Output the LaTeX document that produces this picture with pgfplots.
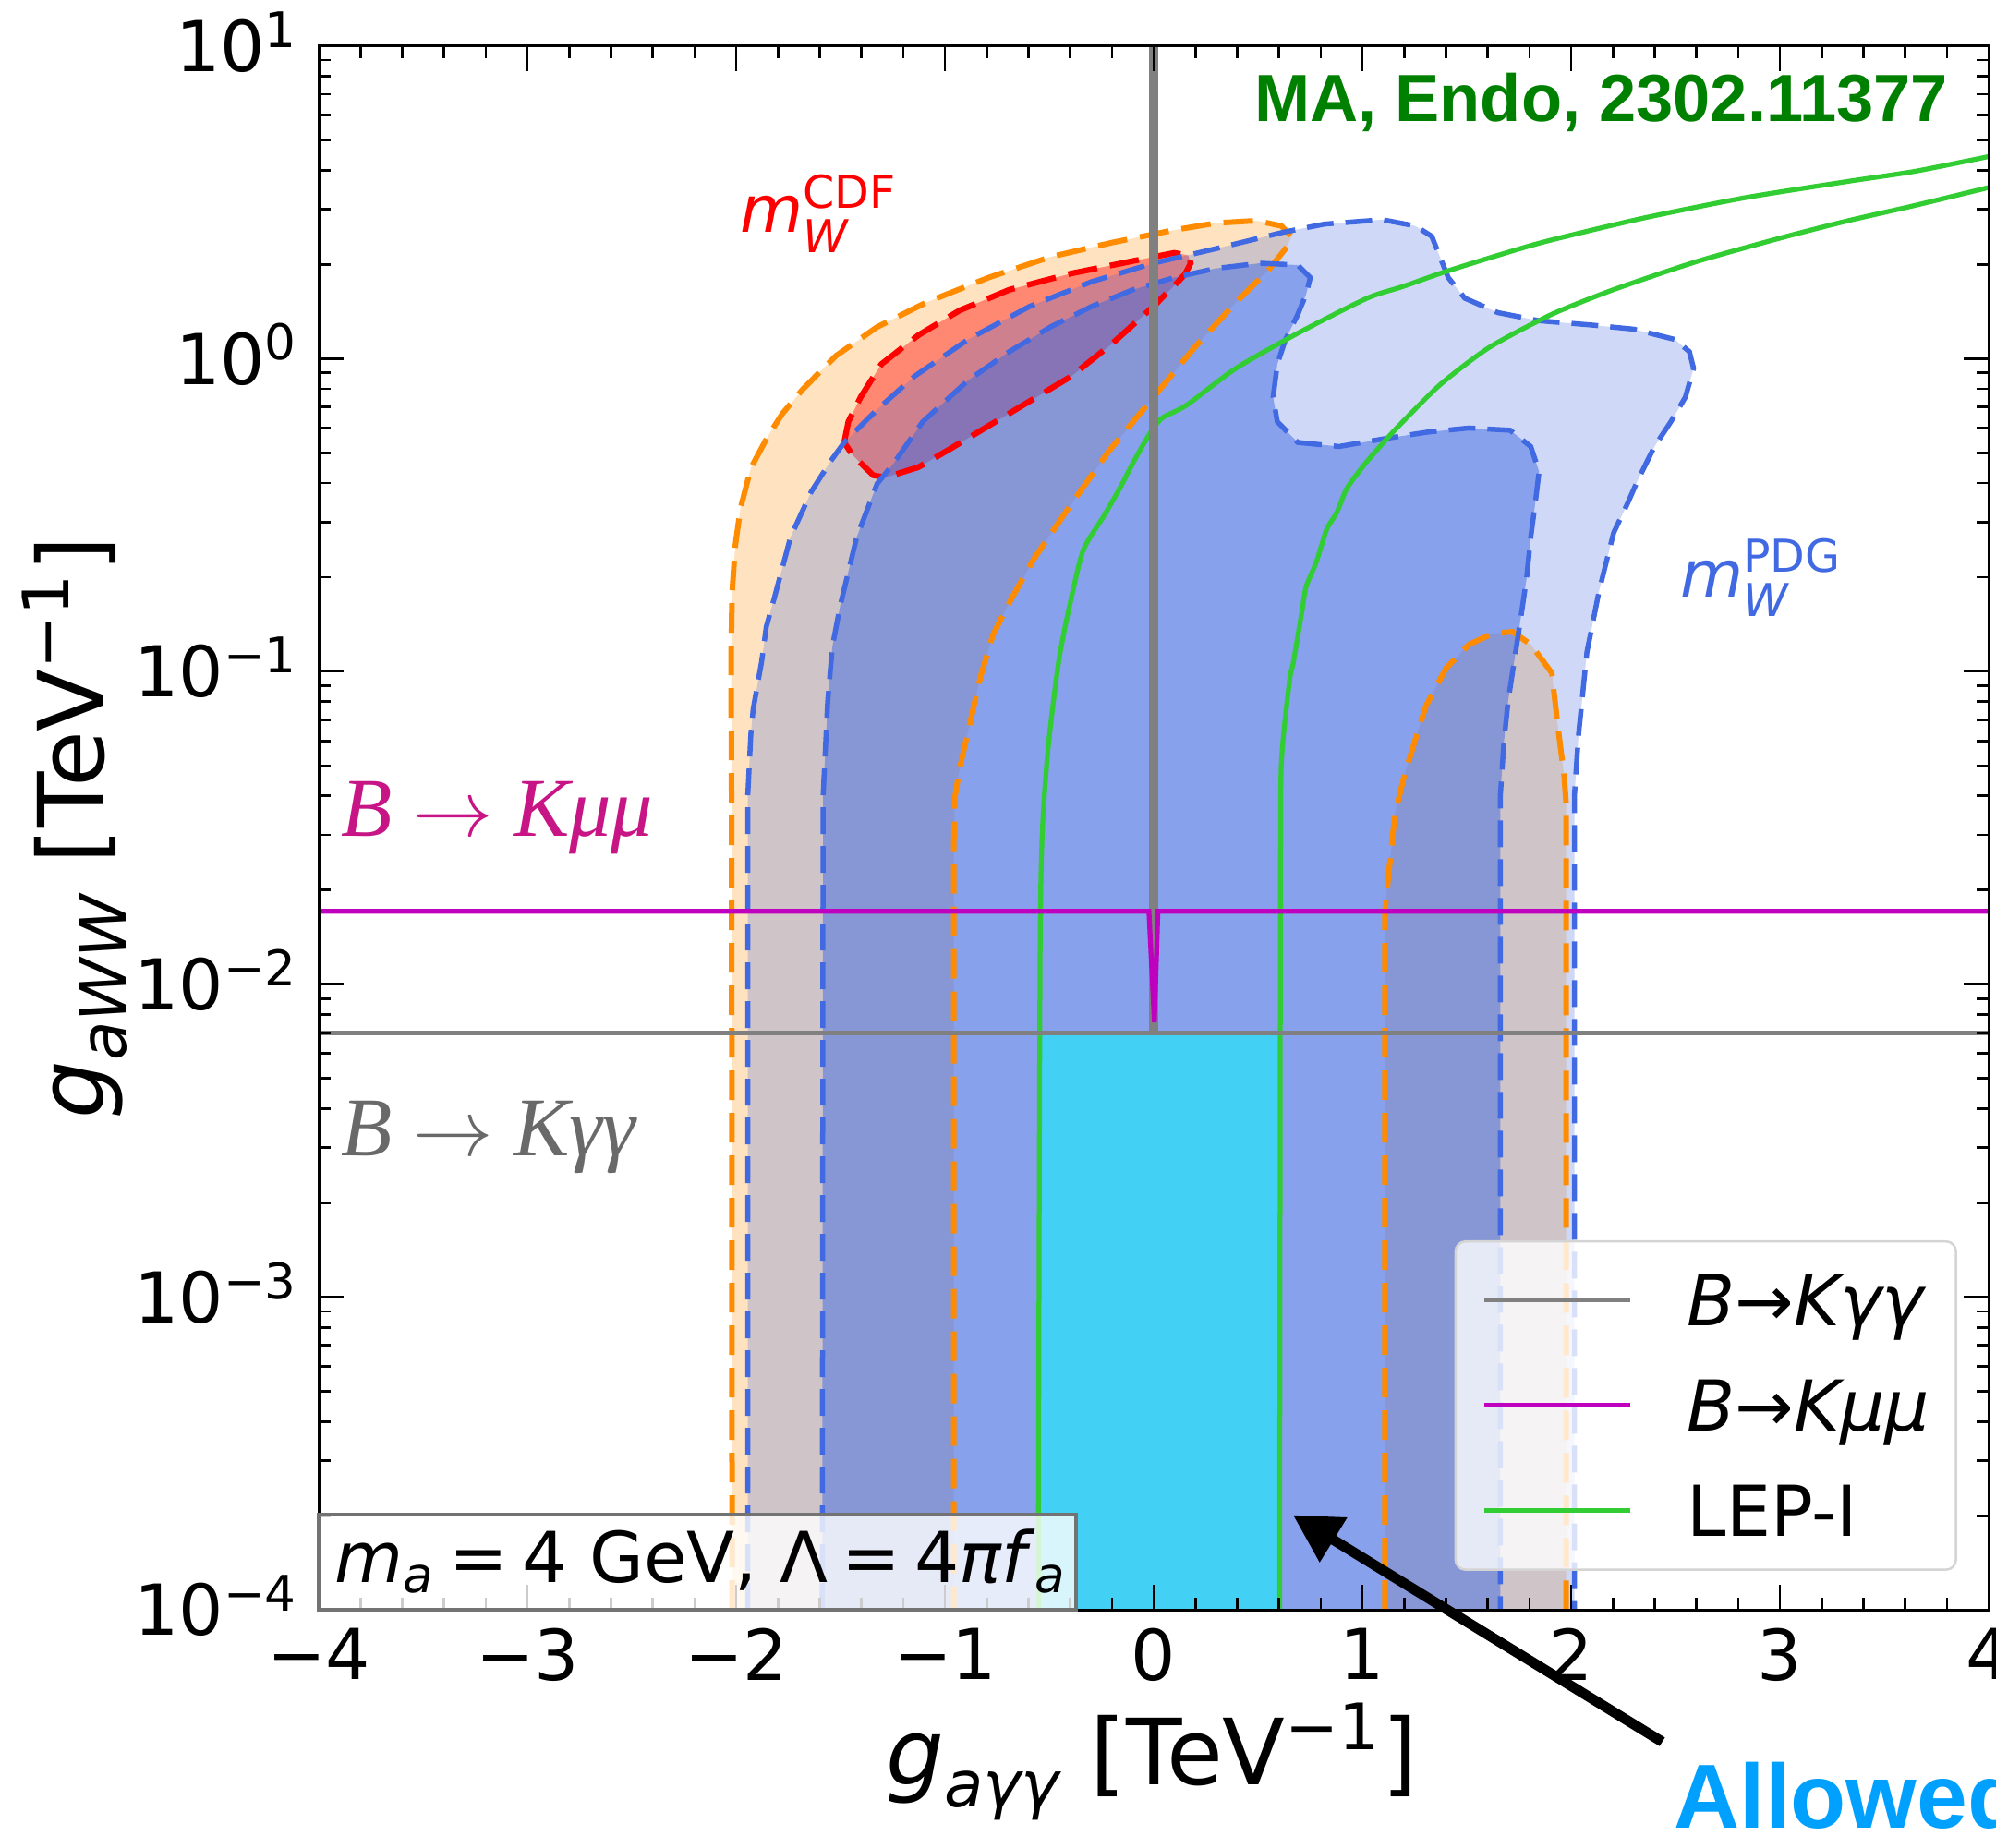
\documentclass[border=0pt]{standalone}
\usepackage{fontspec}
\usepackage{amsmath}
\usepackage{pgfplots}
\usepackage{pgfplotstable}
\pgfplotsset{compat=1.18}
\usetikzlibrary{arrows.meta}
\setmainfont{DejaVu Sans}
\newfontfamily\serifLib{Liberation Serif}
\newfontfamily\arialLib{Liberation Sans}

\definecolor{dorange}{RGB}{255,140,0}
\definecolor{royal}{RGB}{65,105,225}
\definecolor{limeg}{RGB}{50,205,50}
\definecolor{magen}{RGB}{191,0,191}
\definecolor{mvr}{RGB}{199,21,133}
\definecolor{dimg}{RGB}{105,105,105}
\definecolor{mpgreen}{RGB}{0,128,0}
\definecolor{allowedc}{RGB}{0,160,255}
\definecolor{cyanrgb}{RGB}{0,255,255}
\definecolor{redrgb}{RGB}{255,0,0}
\definecolor{grayrgb}{RGB}{128,128,128}

% all y values are log10 of g_aWW [TeV^-1]
\pgfplotstableread{
x y
-2.020 -4.000
-2.022 -1.500
-2.024 -1.100
-2.024 -0.920
-2.020 -0.750
-2.005 -0.600
-1.980 -0.480
-1.930 -0.350
-1.850 -0.250
-1.779 -0.176
-1.680 -0.097
-1.522 0.009
-1.325 0.101
-1.088 0.180
-0.791 0.259
-0.495 0.325
-0.199 0.371
0.098 0.411
0.295 0.433
0.493 0.441
0.611 0.424
0.661 0.391
0.631 0.351
0.552 0.285
0.394 0.180
0.196 0.036
-0.001 -0.123
-0.220 -0.300
-0.396 -0.466
-0.574 -0.640
-0.700 -0.790
-0.770 -0.883
-0.829 -1.015
-0.888 -1.187
-0.928 -1.305
-0.952 -1.400
-0.958 -1.550
-0.958 -4.000
}\orangeL

\pgfplotstableread{
x y
1.107 -4.000
1.107 -1.769
1.127 -1.637
1.156 -1.453
1.205 -1.321
1.304 -1.110
1.400 -0.990
1.510 -0.914
1.620 -0.880
1.719 -0.873
1.806 -0.914
1.907 -1.005
1.936 -1.176
1.966 -1.334
1.976 -1.426
1.976 -4.000
}\orangeR

\pgfplotstableread{
x y
-1.483 -0.268
-1.463 -0.202
-1.404 -0.123
-1.305 -0.018
-1.127 0.075
-0.930 0.154
-0.692 0.220
-0.396 0.272
-0.100 0.312
0.098 0.338
0.165 0.330
0.177 0.305
0.150 0.270
0.117 0.246
-0.001 0.167
-0.199 0.048
-0.396 -0.057
-0.594 -0.136
-0.791 -0.215
-0.989 -0.294
-1.127 -0.347
-1.285 -0.380
-1.344 -0.373
-1.443 -0.308
-1.483 -0.268
}\redC

\pgfplotstableread{
x y
-1.945 -4.000
-1.945 -1.400
-1.930 -1.200
-1.919 -1.121
-1.878 -0.967
-1.856 -0.857
-1.819 -0.769
-1.740 -0.571
-1.641 -0.426
-1.550 -0.330
-1.483 -0.268
-1.325 -0.163
-1.147 -0.057
-0.890 0.061
-0.594 0.167
-0.297 0.246
-0.001 0.305
0.295 0.351
0.621 0.404
0.818 0.430
1.095 0.444
1.253 0.424
1.332 0.391
1.371 0.325
1.411 0.259
1.490 0.193
1.648 0.147
1.846 0.121
2.102 0.107
2.300 0.094
2.497 0.061
2.566 0.022
2.586 -0.031
2.547 -0.123
2.477 -0.202
2.399 -0.281
2.320 -0.387
2.265 -0.470
2.203 -0.557
2.134 -0.741
2.075 -0.939
2.035 -1.202
2.015 -1.400
2.015 -4.000
}\blueO

\pgfplotstableread{
x y
-1.588 -4.000
-1.584 -1.400
-1.562 -1.098
-1.540 -0.923
-1.502 -0.790
-1.423 -0.571
-1.325 -0.400
-1.245 -0.334
-1.107 -0.202
-0.890 -0.070
-0.692 0.022
-0.495 0.101
-0.297 0.167
-0.100 0.220
0.098 0.259
0.295 0.288
0.510 0.305
0.690 0.299
0.750 0.259
0.730 0.206
0.690 0.141
0.631 0.061
0.592 -0.018
0.572 -0.123
0.592 -0.202
0.690 -0.268
0.888 -0.281
1.115 -0.255
1.312 -0.235
1.510 -0.222
1.707 -0.229
1.806 -0.281
1.846 -0.361
1.830 -0.450
1.806 -0.571
1.786 -0.703
1.757 -0.835
1.727 -0.967
1.697 -1.098
1.677 -1.230
1.660 -1.400
1.660 -4.000
}\blueI

\pgfplotstableread{
x y
-0.553 -4.000
-0.543 -1.780
-0.513 -1.300
-0.455 -0.967
-0.396 -0.769
-0.337 -0.611
-0.237 -0.501
-0.158 -0.409
-0.100 -0.334
-0.021 -0.242
0.040 -0.190
0.157 -0.149
0.394 -0.031
0.690 0.081
1.022 0.193
1.192 0.230
1.421 0.283
1.847 0.369
2.338 0.448
2.830 0.514
3.321 0.566
3.649 0.599
4.000 0.646
}\greenL

\pgfplotstableread{
x y
0.603 -4.000
0.607 -1.780
0.611 -1.300
0.650 -1.033
0.670 -0.967
0.710 -0.808
0.730 -0.729
0.779 -0.650
0.829 -0.545
0.877 -0.492
0.927 -0.413
1.020 -0.330
1.154 -0.229
1.371 -0.084
1.608 0.036
1.905 0.141
2.201 0.220
2.600 0.310
3.000 0.385
3.321 0.440
3.649 0.490
4.000 0.547
}\greenR

\begin{document}
\begin{tikzpicture}
\begin{axis}[
  scale only axis, width=361.6pt, height=338.7pt,
  xmin=-4, xmax=4, ymin=-4, ymax=1,
  clip mode=individual, axis on top,
  axis line style={line width=0.6pt},
  xtick={-4,-3,-2,-1,0,1,2,3,4},
  xticklabels={−4,−3,−2,−1,0,1,2,3,4},
  minor x tick num=4,
  ytick={-4,-3,-2,-1,0,1},
  yticklabels={{10$^{\text{−4}}$},{10$^{\text{−3}}$},{10$^{\text{−2}}$},{10$^{\text{−1}}$},{10$^{\text{0}}$},{10$^{\text{1}}$}},
  minor ytick={-3.69897,-3.52288,-3.39794,-3.30103,-3.22185,-3.15490,-3.09691,-3.04576,
               -2.69897,-2.52288,-2.39794,-2.30103,-2.22185,-2.15490,-2.09691,-2.04576,
               -1.69897,-1.52288,-1.39794,-1.30103,-1.22185,-1.15490,-1.09691,-1.04576,
               -0.69897,-0.52288,-0.39794,-0.30103,-0.22185,-0.15490,-0.09691,-0.04576,
               0.30103,0.47712,0.60206,0.69897,0.77815,0.84510,0.90309,0.95424},
  tick align=inside, xtick pos=both, ytick pos=both,
  major tick length=5.4pt, minor tick length=2.6pt,
  every tick/.style={black, line width=0.55pt},
  tick label style={font=\fontsize{15.2}{18}\selectfont},
  xticklabel style={inner sep=0pt}, xticklabel shift=3.8pt,
  yticklabel style={inner sep=0pt, anchor=base east, yshift=-5.55pt}, yticklabel shift=4.2pt,
  xlabel={$\textit{g}_{\textit{aγγ}}$ [TeV$^{\text{−1}}$]},
  ylabel={$\textit{g}_{\textit{aWW}}$ [TeV$^{\text{−1}}$]},
  label style={font=\fontsize{19.8}{23}\selectfont},
  x label style={at={(rel axis cs:0.4989,-0.1116)}, anchor=base},
  y label style={at={(rel axis cs:-0.1289,0.5)}, anchor=base, rotate=0},
  legend cell align=left,
  legend image code/.code={\draw[#1] (0pt,0pt) -- (31.6pt,0pt);},
  legend style={at={(rel axis cs:0.68,0.2363)}, anchor=north west,
    draw=black!17, line width=0.5pt, rounded corners=2.2pt,
    fill=white, fill opacity=0.8, text opacity=1,
    font=\fontsize{15.2}{18}\selectfont,
    inner xsep=5.7pt, inner ysep=7.2pt, row sep=11.7pt, column sep=11.9pt,
    nodes={inner sep=0pt, text height=11.1pt, text depth=0pt}},
]
\addlegendimage{color=grayrgb, line width=1.0pt}
\addlegendentry{\textit{B}→\textit{Kγγ}}
\addlegendimage{color=magen, line width=1.0pt}
\addlegendentry{\textit{B}→\textit{Kμμ}}
\addlegendimage{color=limeg, line width=1.0pt}
\addlegendentry{LEP-I}

% fills
\addplot[fill=dorange, fill opacity=0.25, draw=none, forget plot] table {\orangeL};
\addplot[fill=dorange, fill opacity=0.25, draw=none, forget plot] table {\orangeR};
\addplot[fill=redrgb, fill opacity=0.4, draw=none, forget plot] table {\redC};
\addplot[fill=royal, fill opacity=0.25, draw=none, forget plot] table {\blueO};
\addplot[fill=royal, fill opacity=0.5, draw=none, forget plot] table {\blueI};
\addplot[fill=cyanrgb, fill opacity=0.5, draw=none, forget plot] coordinates {(-0.55,-4) (-0.55,-2.155) (0.605,-2.155) (0.605,-4)};

% dashed contours
\addplot[dorange, line width=1.2pt, dash pattern=on 6.4pt off 2.8pt, forget plot] table {\orangeL};
\addplot[dorange, line width=1.2pt, dash pattern=on 6.4pt off 2.8pt, forget plot] table {\orangeR};
\addplot[redrgb, line width=1.25pt, dash pattern=on 6.4pt off 2.8pt, forget plot] table {\redC};
\addplot[royal, line width=1.1pt, dash pattern=on 5.8pt off 2.6pt, forget plot] table {\blueO};
\addplot[royal, line width=1.1pt, dash pattern=on 5.8pt off 2.6pt, forget plot] table {\blueI};

% LEP-I
\addplot[limeg, line width=1.05pt, smooth, tension=0.4, forget plot] table {\greenL};
\addplot[limeg, line width=1.05pt, smooth, tension=0.4, forget plot] table {\greenR};

% B -> K gamma gamma
\addplot[grayrgb, line width=1.05pt, forget plot] coordinates {(-4,-2.155) (-0.011,-2.155) (-0.011,1.0)};
\addplot[grayrgb, line width=1.05pt, forget plot] coordinates {(0.011,1.0) (0.011,-2.155) (4,-2.155)};
% B -> K mu mu
\addplot[magen, line width=1.05pt, forget plot] coordinates {(-4,-1.767) (-0.023,-1.767) (0.003,-2.122) (0.020,-1.767) (4,-1.767)};

% labels
\node[anchor=base east, inner sep=0pt, text=mpgreen, font=\arialLib\bfseries\fontsize{14.45}{17}\selectfont] at (axis cs:3.81,0.758) {MA, Endo, 2302.11377};
\node[anchor=base west, inner sep=0pt, text=mvr, font=\serifLib\itshape\fontsize{18.1}{21}\selectfont] at (axis cs:-3.898,-1.526) {B $\rightarrow$ Kμμ};
\node[anchor=base west, inner sep=0pt, text=dimg, font=\serifLib\itshape\fontsize{18.1}{21}\selectfont] at (axis cs:-3.898,-2.550) {B $\rightarrow$ Kγγ};
\node[anchor=base west, inner sep=0pt, text=redrgb, font=\fontsize{14}{17}\selectfont] at (axis cs:-1.987,0.404) {$\textit{m}^{\text{CDF}}_{\textit{W}}$};
\node[anchor=base west, inner sep=0pt, text=royal, font=\fontsize{14}{17}\selectfont] at (axis cs:2.518,-0.761) {$\textit{m}^{\text{PDG}}_{\textit{W}}$};

\coordinate (BBsw) at (axis cs:-5.527,-4.7586);
\coordinate (BBne) at (axis cs:4.035,1.1464);
\coordinate (TBsw) at (axis cs:-4,-4);
\coordinate (TBne) at (axis cs:-0.372,-3.6956);
\coordinate (TBtxt) at (axis cs:-3.927,-3.912);
\coordinate (ARtail) at (axis cs:2.436,-4.422);
\coordinate (ARtip) at (axis cs:0.667,-3.697);
\coordinate (ALW) at (axis cs:2.490,-4.699);
\end{axis}

\fill[white, fill opacity=0.8] (TBsw) rectangle (TBne);
\draw[black!55, line width=0.7pt] (TBsw) rectangle (TBne);
\node[anchor=base west, inner sep=0pt, font=\fontsize{15.2}{18}\selectfont] at (TBtxt)
  {\textit{m}$_{\textit{a}}$\hspace{0.2em}=\hspace{0.2em}4 GeV, Λ\hspace{0.2em}=\hspace{0.2em}4\textit{πf}$_{\textit{a}}$};
\draw[line width=2.2pt, -{Triangle[length=10.3pt, width=10.8pt]}] (ARtail) -- (ARtip);
\node[anchor=base west, inner sep=0pt, text=allowedc, font=\arialLib\bfseries\fontsize{19.7}{23}\selectfont] at (ALW) {Allowed};

\pgfresetboundingbox
\path[use as bounding box] (BBsw) rectangle (BBne);
\end{tikzpicture}
\end{document}
